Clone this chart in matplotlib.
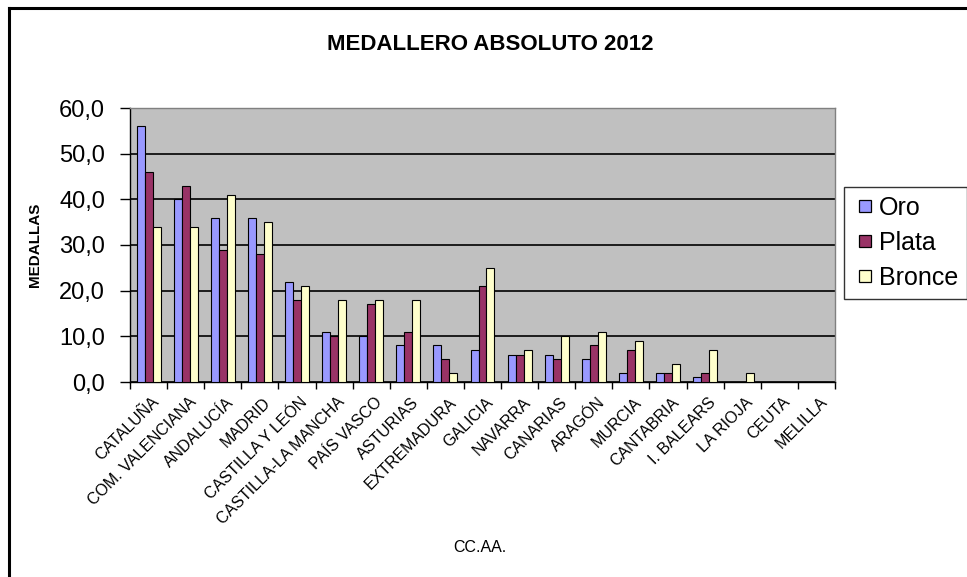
import matplotlib
matplotlib.use("Agg")
import matplotlib.pyplot as plt
import numpy as np
from matplotlib.lines import Line2D

plt.rcParams['font.family'] = ['Liberation Sans', 'DejaVu Sans']

categories = ["CATALUÑA", "COM. VALENCIANA", "ANDALUCÍA", "MADRID", "CASTILLA Y LEÓN",
              "CASTILLA-LA MANCHA", "PAÍS VASCO", "ASTURIAS", "EXTREMADURA", "GALICIA",
              "NAVARRA", "CANARIAS", "ARAGÓN", "MURCIA", "CANTABRIA", "I. BALEARS",
              "LA RIOJA", "CEUTA", "MELILLA"]
oro    = [56, 40, 36, 36, 22, 11, 10, 8, 8, 7, 6, 6, 5, 2, 2, 1, 0, 0, 0]
plata  = [46, 43, 29, 28, 18, 10, 17, 11, 5, 21, 6, 5, 8, 7, 2, 2, 0, 0, 0]
bronce = [34, 34, 41, 35, 21, 18, 18, 18, 2, 25, 7, 10, 11, 9, 4, 7, 2, 0, 0]
series = [("Oro", oro, "#9999FF"), ("Plata", plata, "#993366"), ("Bronce", bronce, "#FFFFCC")]
yticks = [0, 10, 20, 30, 40, 50, 60]

fig = plt.figure(figsize=(9.67, 5.77), dpi=100)
ax = fig.add_axes([130/967, 1-382/577, (835-130)/967, (382-108)/577])
ax.set_facecolor("#C0C0C0")

n = len(categories)
x = np.arange(n)
w = 0.215
for i, (name, vals, col) in enumerate(series):
    ax.bar(x + (i-1)*w, vals, width=w, color=col, edgecolor="black", linewidth=0.8,
           label=name, zorder=3)

ax.set_xlim(-0.5, n-0.5)
ax.set_ylim(0, 60)
ax.set_yticks(yticks)
ax.set_yticklabels([f"{v:.1f}".replace(".", ",") for v in yticks], fontsize=17)
ax.yaxis.grid(True, color="black", linewidth=1.2, zorder=1)
ax.set_axisbelow(True)
ax.set_xticks(np.arange(n+1) - 0.5)
ax.set_xticklabels([])
ax.set_xticks(x + 0.08, minor=True)
ax.set_xticklabels(categories, minor=True, rotation=45, ha="right", rotation_mode="anchor",
                   fontsize=11.5)
ax.tick_params(axis="x", which="minor", length=0, pad=9)
ax.tick_params(axis="x", which="major", length=5, direction="out", width=1)
ax.tick_params(axis="y", length=7, direction="out", width=1, pad=11)
for s in ["top", "right"]:
    ax.spines[s].set_color("#808080")
    ax.spines[s].set_linewidth(1)
for s in ["left", "bottom"]:
    ax.spines[s].set_color("black")
    ax.spines[s].set_linewidth(1)

fig.text(490/967, 1-44/577, "MEDALLERO ABSOLUTO 2012", ha="center", va="center",
         fontsize=16, fontweight="bold")
fig.text(35/967, 1-245/577, "MEDALLAS", rotation=90, ha="center", va="center",
         fontsize=11, fontweight="bold")
fig.text(480/967, 1-548/577, "CC.AA.", ha="center", va="center", fontsize=11.5)

handles = [Line2D([], [], linestyle="none", marker="s", markersize=8,
                  markerfacecolor=col, markeredgecolor="black", markeredgewidth=0.9)
           for _, _, col in series]
labels = [name for name, _, _ in series]
leg = ax.legend(handles, labels, loc="upper left", bbox_to_anchor=(844/967, 1-187/577),
                bbox_transform=fig.transFigure,
                frameon=True, fancybox=False, edgecolor="black", fontsize=18,
                handlelength=1.0, handletextpad=0.05, borderpad=0.35,
                labelspacing=0.45, borderaxespad=0)
leg.get_frame().set_linewidth(1)

fig.add_artist(Line2D([9/967, 9/967], [0, 1-8/577], color="black", linewidth=2.2, transform=fig.transFigure))
fig.add_artist(Line2D([9/967, 1], [1-8/577, 1-8/577], color="black", linewidth=2.2, transform=fig.transFigure))

fig.savefig("out.png", dpi=100)
